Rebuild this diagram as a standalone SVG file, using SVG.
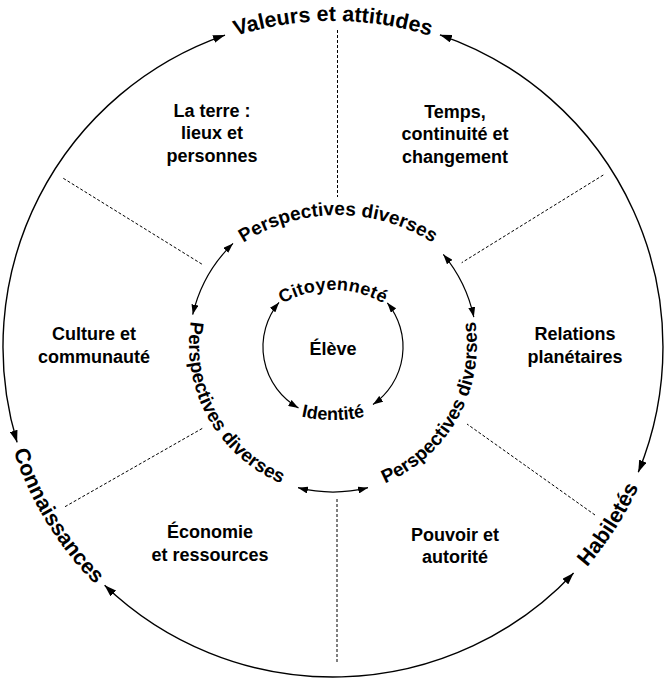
<svg xmlns="http://www.w3.org/2000/svg" width="666" height="678" viewBox="0 0 666 678">
<style>
text{font-family:"Liberation Sans",Arial,sans-serif;font-weight:bold;fill:#000}
.sec{font-size:18px;text-anchor:middle}
.big{font-size:21.5px}
.mid{font-size:19px}
.inn{font-size:18px}
.arc{fill:none;stroke:#000;stroke-width:1.4}
.arcs{fill:none;stroke:#000;stroke-width:1.2}
.dash{fill:none;stroke:#000;stroke-width:1;stroke-dasharray:3 2}
</style>
<defs>
<marker id="ah" viewBox="0 0 12 8" refX="12" refY="4" markerWidth="12" markerHeight="8" markerUnits="userSpaceOnUse" orient="auto-start-reverse">
<path d="M0,0 L12,4 L0,8 z" fill="#000"/>
</marker>
<marker id="ahs" viewBox="0 0 10 7" refX="10" refY="3.5" markerWidth="10" markerHeight="7" markerUnits="userSpaceOnUse" orient="auto-start-reverse">
<path d="M0,0 L10,3.5 L0,7 z" fill="#000"/>
</marker>
<path id="pValeurs" d="M102.5,116.5 A326,326 0 0 1 563.5,116.5"/>
<path id="pConn" d="M0.7,297.3 A336,336 0 0 0 226.4,665.6"/>
<path id="pHab" d="M432.6,667.9 A336,336 0 0 0 666.3,304.6"/>
<path id="pPTop" d="M214.3,266.3 A175,175 0 0 1 461.7,266.3"/>
<path id="pPLeft" d="M239.4,232.9 A150,150 0 0 0 381.8,488.8"/>
<path id="pPRight" d="M284.2,488.8 A150,150 0 0 0 426.6,232.9"/>
<path id="pCit" d="M239,355.8 A100,100 0 0 1 427,355.8"/>
<path id="pId" d="M203.1,345 A150,150 0 0 0 462.9,345"/>
</defs>

<g id="connectors">
<path class="arc" d="M17.1,442.4 A330,330 0 0 1 225,35.1" marker-start="url(#ah)" marker-end="url(#ah)"/>
<path class="arc" d="M439.9,34.8 A330,330 0 0 1 638.3,472.2" marker-start="url(#ah)" marker-end="url(#ah)"/>
<path class="arc" d="M573.6,572.9 A330,330 0 0 1 104.6,585.2" marker-start="url(#ah)" marker-end="url(#ah)"/>
<path class="arcs" d="M192.7,314.6 A145,145 0 0 1 233,243.4" marker-start="url(#ahs)" marker-end="url(#ahs)"/>
<path class="arcs" d="M443.3,254.4 A145,145 0 0 1 473.8,317.1" marker-start="url(#ahs)" marker-end="url(#ahs)"/>
<path class="arcs" d="M368,487.7 A145,145 0 0 1 298,487.7" marker-start="url(#ahs)" marker-end="url(#ahs)"/>
<path class="arcs" d="M298.5,407.9 A70,70 0 0 1 279,302.4" marker-start="url(#ahs)" marker-end="url(#ahs)"/>
<path class="arcs" d="M387.3,302.8 A70,70 0 0 1 373,404.5" marker-start="url(#ahs)" marker-end="url(#ahs)"/>
</g>

<g id="dividers">
<line class="dash" x1="337.5" y1="30" x2="337.5" y2="197"/>
<line class="dash" x1="337" y1="499" x2="337" y2="664"/>
<line class="dash" x1="63.3" y1="178.3" x2="203.3" y2="265"/>
<line class="dash" x1="603.3" y1="175" x2="461.7" y2="262.7"/>
<line class="dash" x1="65" y1="506.7" x2="203" y2="428"/>
<line class="dash" x1="595" y1="515" x2="467" y2="424"/>
</g>

<g id="valeurs"><text class="big"><textPath href="#pValeurs" startOffset="50%" text-anchor="middle">Valeurs et attitudes</textPath></text></g>
<g id="connaissances"><text class="big"><textPath href="#pConn" startOffset="50%" text-anchor="middle">Connaissances</textPath></text></g>
<g id="habiletes"><text class="big"><textPath href="#pHab" startOffset="50%" text-anchor="middle">Habiletés</textPath></text></g>

<g id="perspectives-top"><text class="mid"><textPath href="#pPTop" startOffset="50%" text-anchor="middle">Perspectives diverses</textPath></text></g>
<g id="perspectives-left"><text class="mid"><textPath href="#pPLeft" startOffset="50%" text-anchor="middle">Perspectives diverses</textPath></text></g>
<g id="perspectives-right"><text class="mid"><textPath href="#pPRight" startOffset="50%" text-anchor="middle">Perspectives diverses</textPath></text></g>

<g id="citoyennete"><text class="inn" letter-spacing="0.3"><textPath href="#pCit" startOffset="50%" text-anchor="middle">Citoyenneté</textPath></text></g>
<g id="identite"><text class="inn"><textPath href="#pId" startOffset="50%" text-anchor="middle">Identité</textPath></text></g>
<g id="eleve"><text class="sec" x="333" y="355">Élève</text></g>

<g id="terre"><text class="sec" x="212" y="117">La terre :</text><text class="sec" x="212" y="139">lieux et</text><text class="sec" x="212" y="161.5">personnes</text></g>
<g id="temps"><text class="sec" x="455" y="118">Temps,</text><text class="sec" x="455" y="140">continuité et</text><text class="sec" x="455" y="162.5">changement</text></g>
<g id="culture"><text class="sec" x="94" y="340">Culture et</text><text class="sec" x="94" y="363">communauté</text></g>
<g id="relations"><text class="sec" x="575" y="340">Relations</text><text class="sec" x="575" y="363">planétaires</text></g>
<g id="economie"><text class="sec" x="210" y="538">Économie</text><text class="sec" x="210" y="561">et ressources</text></g>
<g id="pouvoir"><text class="sec" x="455" y="541">Pouvoir et</text><text class="sec" x="455" y="563">autorité</text></g>
</svg>
